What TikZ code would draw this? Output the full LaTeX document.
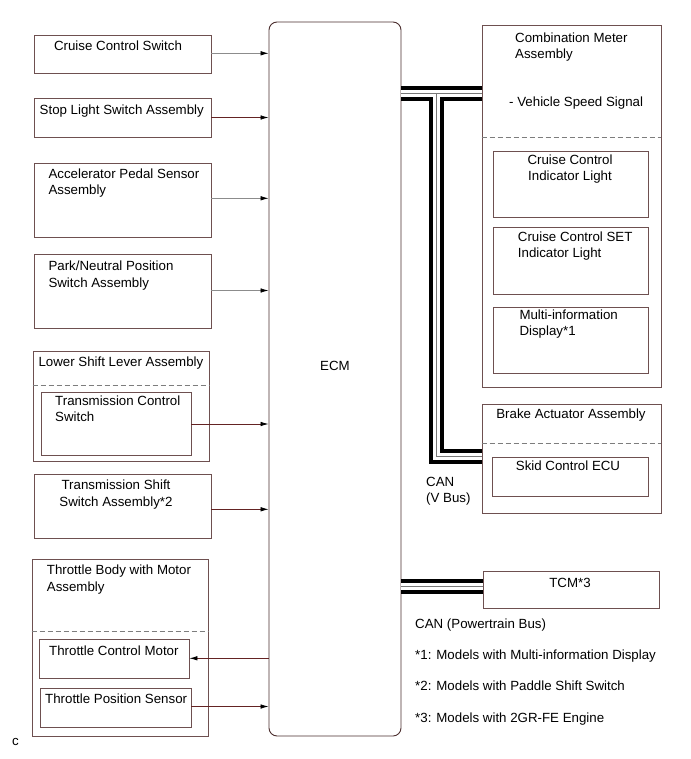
\documentclass[tikz,border=0pt]{standalone}
\usepackage{fontspec}
\setmainfont{Liberation Sans}
\usetikzlibrary{fit,arrows.meta}
\definecolor{boxc}{RGB}{110,80,80}
\definecolor{ecmc}{RGB}{75,45,45}
\definecolor{redline}{RGB}{100,35,35}
\definecolor{grayline}{RGB}{140,140,140}
\definecolor{dashc}{RGB}{125,125,125}
\definecolor{innerc}{RGB}{120,120,120}
\tikzset{
  box/.style={draw=boxc, line width=0.9pt, inner sep=0pt, fill=none},
  txt/.style={inner sep=0pt, font=\fontsize{13.3}{16.3}\selectfont, align=left, anchor=north west},
  ctxt/.style={inner sep=0pt, font=\fontsize{13.3}{16.3}\selectfont, align=center, anchor=north},
  arr/.style={draw=redline, line width=0.8pt, -{Latex[length=8pt,width=4.6pt,color=black]}},
  garr/.style={arr, draw=grayline},
  dashline/.style={draw=dashc, line width=0.9pt, dash pattern=on 5pt off 3pt},
  busouter/.style={line width=15pt, draw=black},
  businner/.style={line width=7pt, draw=white},
  busmid/.style={line width=1pt, draw=innerc}
}
\begin{document}
\begin{tikzpicture}[x=1pt,y=-1pt]
\useasboundingbox (0,0) rectangle (690,759);
% ECM
\node[draw=ecmc, line width=0.9pt, rounded corners=8pt, inner sep=0pt, fit={(269,22) (401,736)}] (ecm) {};
\node[inner sep=0pt, font=\fontsize{13.3}{16.3}\selectfont] (ecmt) at (335,366) {ECM};
% left boxes
\node[box, fit={(34,35) (211,73)}] (ccs) {};
\node[ctxt] (ccst) at (118,41) {Cruise Control Switch};
\node[box, fit={(34,98) (211,137)}] (sls) {};
\node[txt] (slst) at (39.5,104.3) {Stop Light Switch Assembly};
\node[box, fit={(34,163) (211,237)}] (aps) {};
\node[txt] (apst) at (48.3,168.3) {Accelerator Pedal Sensor\\Assembly};
\node[box, fit={(34,254) (211,328)}] (pnp) {};
\node[txt] (pnpt) at (48.3,261) {Park/Neutral Position\\Switch Assembly};
\node[box, fit={(33,351) (209,461)}] (lsl) {};
\node[txt] (lslt) at (38.3,356.7) {Lower Shift Lever Assembly};
\draw[dashline] (lsl.west |- 0,385) -- (lsl.east |- 0,385);
\node[box, fit={(41,392) (191,455)}] (tcs) {};
\node[txt] (tcst) at (55,395.7) {Transmission Control\\Switch};
\node[box, fit={(34,474) (211,538)}] (tss) {};
\node[ctxt] (tsst) at (116,480) {Transmission Shift\\Switch Assembly*2};
\node[box, fit={(32,559) (208,736)}] (tbm) {};
\node[txt] (tbmt) at (46.7,565) {Throttle Body with Motor\\Assembly};
\draw[dashline] (tbm.west |- 0,631) -- (tbm.east |- 0,631);
\node[box, fit={(39,639) (189,678)}] (tcmo) {};
\node[txt] (tcmot) at (49,646) {Throttle Control Motor};
\node[box, fit={(40,688) (191,727)}] (tps) {};
\node[txt] (tpst) at (45,694) {Throttle Position Sensor};
% arrows to ECM
\draw[garr] (ccs.east |- 0,53.3) -- (ecm.west |- 0,53.3);
\draw[arr] (sls.east) -- (sls.east -| ecm.west);
\draw[garr] (aps.east |- 0,198.3) -- (ecm.west |- 0,198.3);
\draw[garr] (pnp.east |- 0,290.5) -- (ecm.west |- 0,290.5);
\draw[arr] (tcs.east |- 0,424) -- (ecm.west |- 0,424);
\draw[arr] (tss.east |- 0,509.3) -- (ecm.west |- 0,509.3);
\draw[arr] (ecm.west |- 0,658.3) -- (tcmo.east |- 0,658.3);
\draw[arr] (tps.east |- 0,706.5) -- (ecm.west |- 0,706.5);
% right boxes
\node[box, fit={(482,25.5) (661,387)}] (cma) {};
\node[txt] (cmat) at (515,32.3) {Combination Meter\\Assembly};
\node[txt] (vsst) at (509,97) {- Vehicle Speed Signal};
\draw[dashline] (cma.west |- 0,137.5) -- (cma.east |- 0,137.5);
\node[box, fit={(493,151) (648,217)}] (cci) {};
\node[ctxt] (ccit) at (570,154.3) {Cruise Control\\Indicator Light};
\node[box, fit={(493,227.5) (648,294)}] (cset) {};
\node[txt] (csett) at (517.7,231.7) {Cruise Control SET\\Indicator Light};
\node[box, fit={(493,307) (648,373)}] (mid) {};
\node[txt] (midt) at (519.3,309.3) {Multi-information\\Display*1};
\node[box, fit={(482,404.5) (661,513.5)}] (ba) {};
\node[ctxt] (bat) at (571,408.3) {Brake Actuator Assembly};
\draw[dashline] (ba.west |- 0,443.5) -- (ba.east |- 0,443.5);
\node[box, fit={(492,457) (648,496)}] (skid) {};
\node[ctxt] (skidt) at (568,461) {Skid Control ECU};
\node[box, fit={(483,571) (659.5,608)}] (tcm) {};
\node[ctxt] (tcmt) at (570,577.7) {TCM*3};
% CAN V bus
\coordinate (tj) at (436,94);
\draw[busouter] (ecm.east |- tj) -- (cma.west |- tj) (tj) |- (ba.west |- 0,456);
\draw[businner] (ecm.east |- tj) -- (cma.west |- tj) (tj) |- (ba.west |- 0,456);
\draw[busmid] (ecm.east |- tj) -- (cma.west |- tj) (tj) |- (ba.west |- 0,456);
% CAN powertrain bus
\coordinate (pb) at (440,586);
\draw[busouter] (ecm.east |- pb) -- (tcm.west |- pb);
\draw[businner] (ecm.east |- pb) -- (tcm.west |- pb);
\draw[busmid] (ecm.east |- pb) -- (tcm.west |- pb);
% labels
\node[txt] (canv) at (426,476.7) {CAN\\(V Bus)};
\node[txt] (canp) at (415,618.3) {CAN (Powertrain Bus)};
\node[txt] (n1) at (415,650) {*1: Models with Multi-information Display};
\node[txt] (n2) at (415,681) {*2: Models with Paddle Shift Switch};
\node[txt] (n3) at (415,712.3) {*3: Models with 2GR-FE Engine};
\node[inner sep=0pt, anchor=base west, font=\fontsize{13.3}{16.3}\selectfont] (cc) at (12,745.5) {c};
\end{tikzpicture}
\end{document}
